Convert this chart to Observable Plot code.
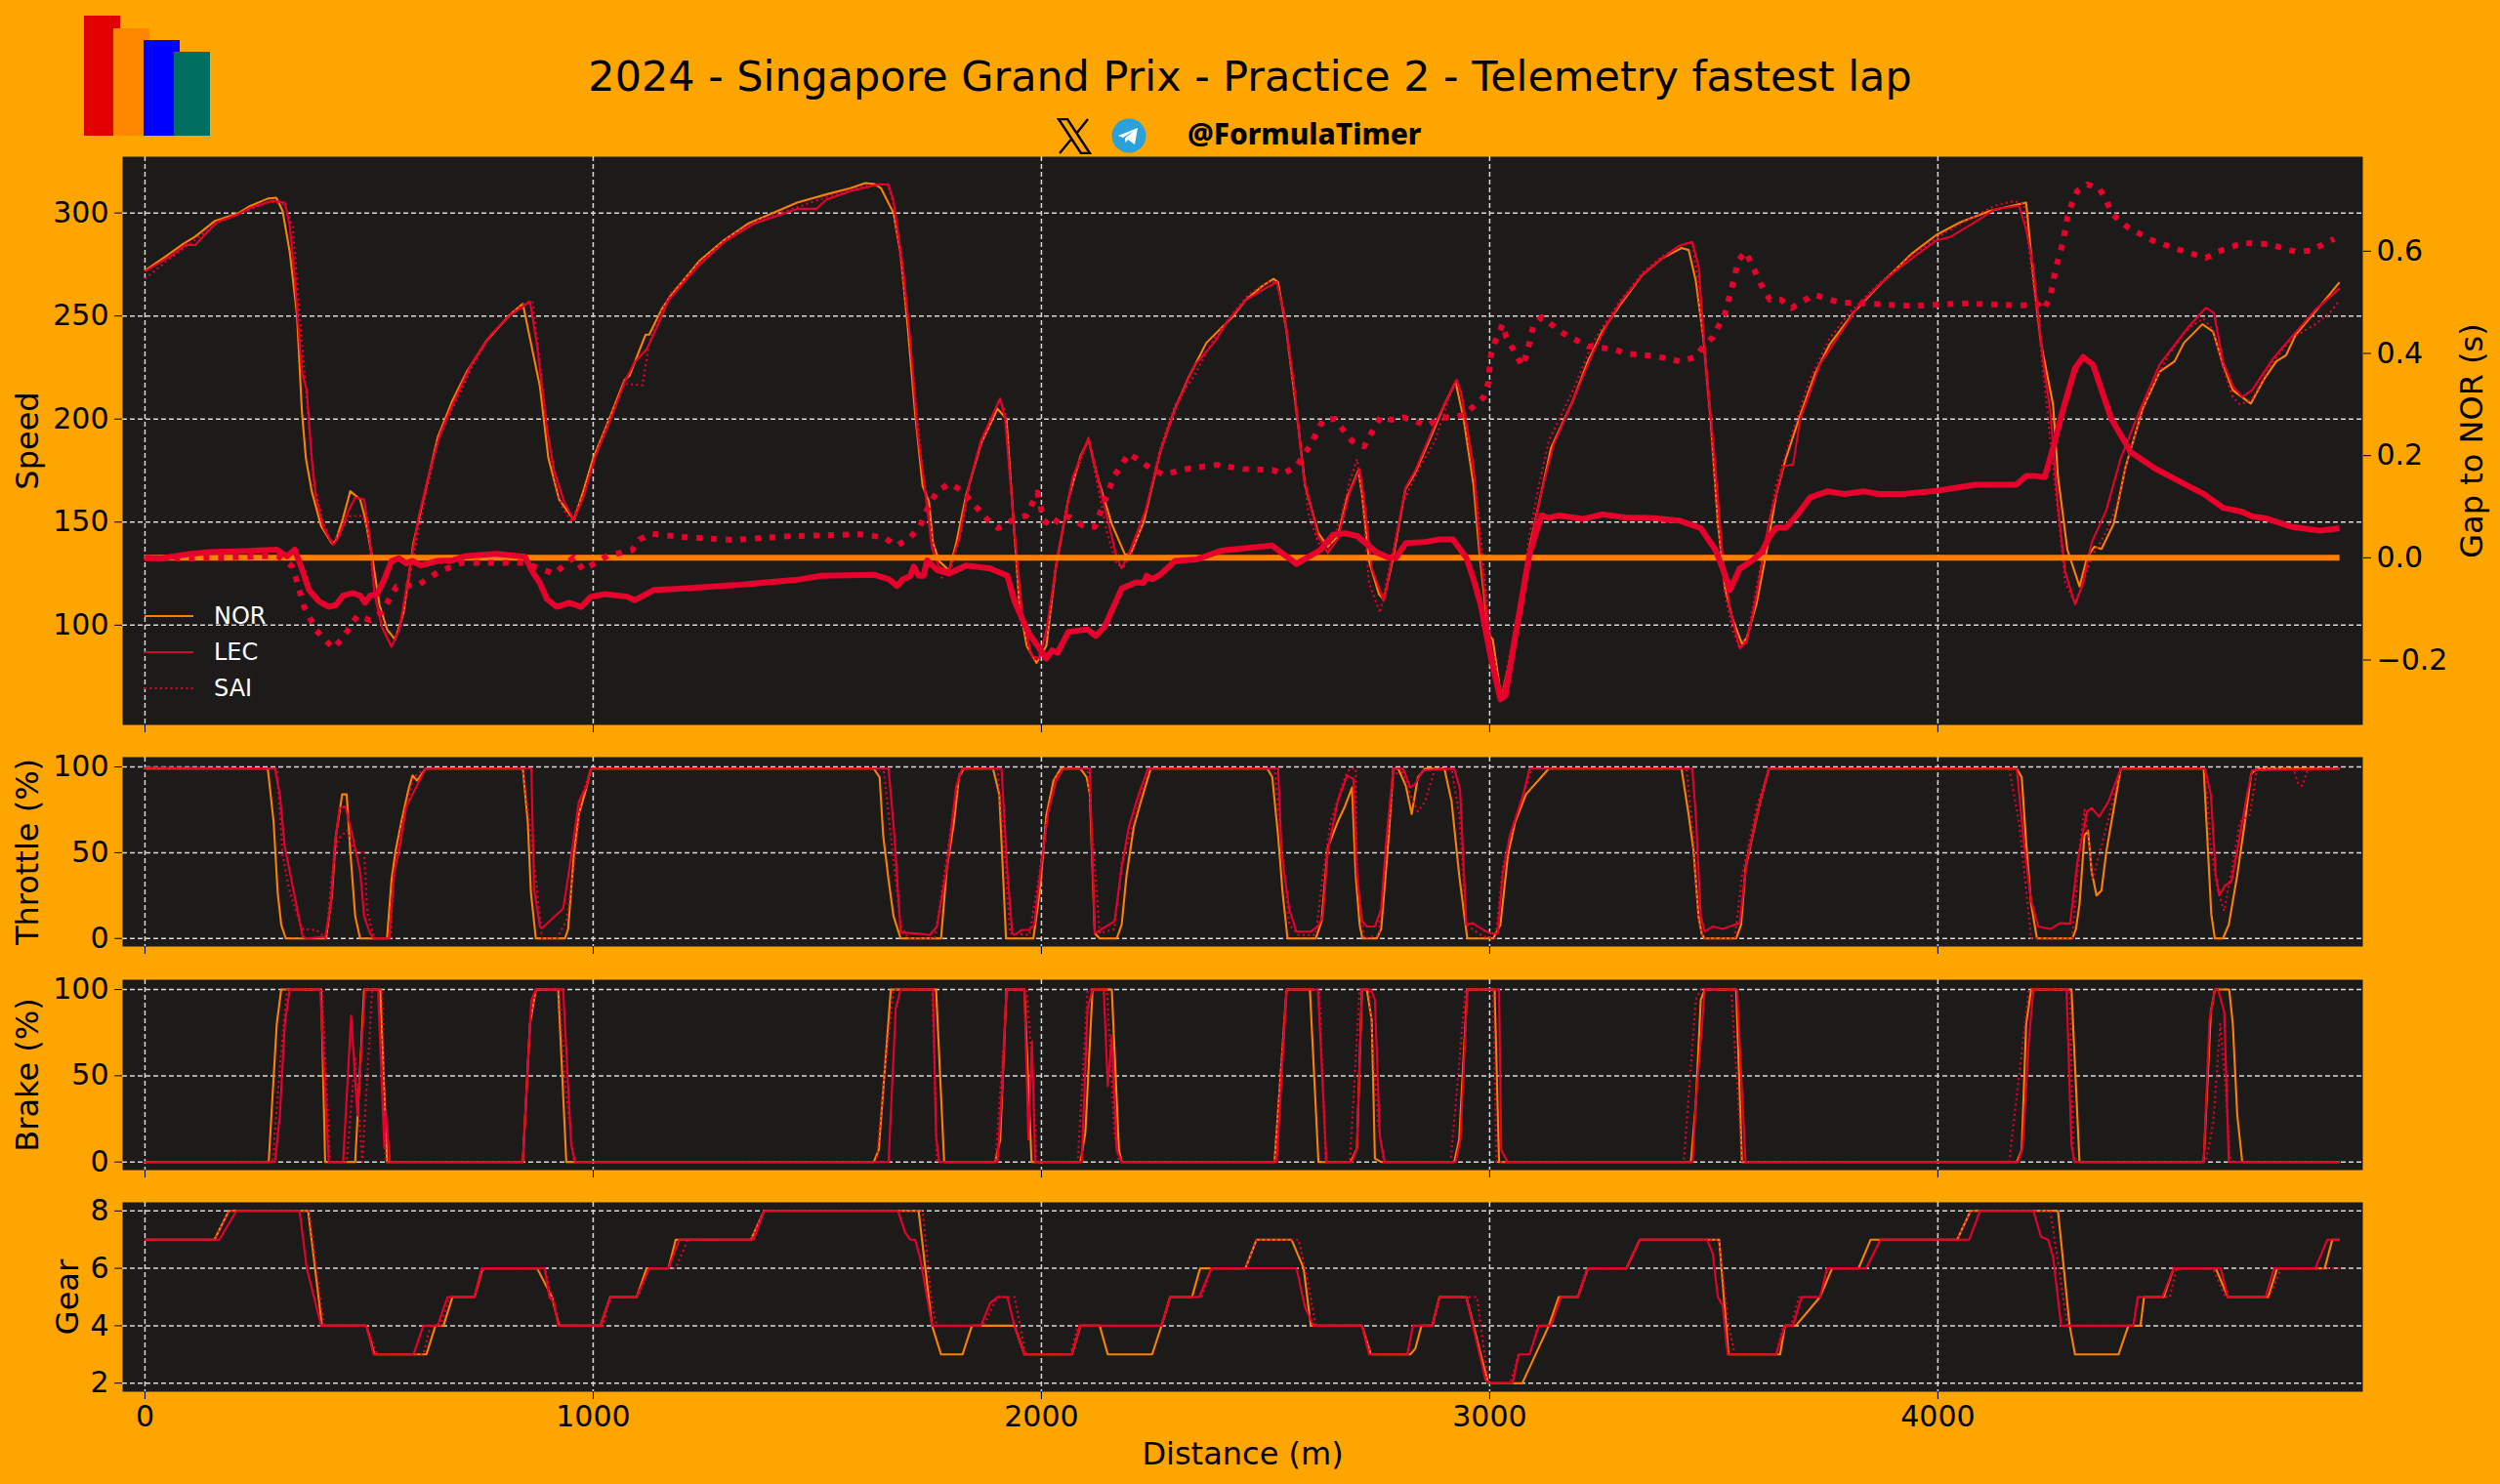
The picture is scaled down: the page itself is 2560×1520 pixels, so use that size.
<!DOCTYPE html>
<html>
<head>
<meta charset="utf-8">
<script src="https://cdn.jsdelivr.net/npm/d3@7"></script>
<script src="https://cdn.jsdelivr.net/npm/@observablehq/plot@0.6"></script>
<style>
html,body{margin:0;padding:0;background:#FFA500;}
#page{position:relative;width:2560px;height:1520px;overflow:hidden;background:#FFA500;font-family:"DejaVu Sans",sans-serif;color:#000;}
#page>*{position:absolute;}
.logo{display:block;}
#title{left:0;width:2560px;top:50px;text-align:center;font-size:42.9px;line-height:56px;}
#handle{left:1216px;top:116px;font-family:"Noto Sans",sans-serif;font-weight:800;font-size:29.8px;line-height:42px;white-space:nowrap;}
.lg{color:#fff;font-size:24px;line-height:30px;left:219px;}
.lgl{left:148px;width:50px;height:6px;}
</style>
</head>
<body>
<div id="page">
  <div class="logo" style="left:86px;top:16px;width:37px;height:123px;background:#E10000"></div>
  <div class="logo" style="left:116px;top:29px;width:37px;height:110px;background:#FF8700"></div>
  <div class="logo" style="left:147px;top:41px;width:37px;height:98px;background:#0000FF"></div>
  <div class="logo" style="left:178px;top:53px;width:37px;height:86px;background:#006F62"></div>
  <div id="title">2024 - Singapore Grand Prix - Practice 2 - Telemetry fastest lap</div>
  <svg style="left:1082px;top:121px" width="36" height="37" viewBox="0 0 36 37">
    <path d="M2 1 L11 1 L34 36 L25 36 Z" fill="none" stroke="#000" stroke-width="2.4"/>
    <path d="M32 1 L20.5 15.5 M15 21.5 L3 36" fill="none" stroke="#000" stroke-width="2.4"/>
  </svg>
  <svg style="left:1138px;top:121px" width="36" height="36" viewBox="0 0 36 36">
    <circle cx="18" cy="18" r="17.5" fill="#2AA1DA"/>
    <path d="M7 18 L27 10 L24 27 L17 22 L14.5 25 L14 20.5 L23 13 L12 20 Z" fill="#fff"/>
  </svg>
  <div id="handle">@FormulaTimer</div>
</div>
<script>
// [distance (m), value] samples
const norSpeed = [[0,272],[47,279],[85,285],[112,288.5],[155,296],[209,300],[231,303],[274,307],[293,307.4],[307,301],[323,281],[339,251],[350,204],[359,181],[372,165],[393,148],[417,139.6],[426,141],[442,152],[458,165],[480,161],[491,152],[507,133],[523,110],[540,98],[558,93],[577,106],[599,140],[621,161],[653,191],[686,209],[718,223],[762,238],[816,251],[843,256],[859,239],[881,216],[900,181],[924,161],[957,151],[978,165],[1000,181],[1032,198],[1070,219],[1081,221],[1097,230],[1117,241],[1125,241],[1152,253],[1173,260],[1238,277],[1293,287],[1347,295],[1412,301],[1455,305],[1520,309],[1574,312],[1607,314.5],[1628,314],[1642,312],[1670,300],[1686,280],[1702,244],[1718,203],[1735,167.5],[1738,166],[1749,160],[1758,140],[1772,131],[1794,126.5],[1810,140],[1832,163],[1865,188],[1902,205],[1922,200],[1935,159],[1951,110],[1967,90],[1989,81.7],[2011,90],[2032,128],[2060,161],[2087,182],[2105,190],[2125,172],[2157,149],[2187,134],[2200,135],[2228,150],[2265,184],[2298,205],[2330,221],[2368,237],[2428,250],[2455,257.6],[2493,264.6],[2518,268],[2528,266.4],[2547,242.5],[2574,195],[2588,168],[2617,145],[2639,138],[2661,143],[2682,162],[2707,175],[2715,164],[2731,131],[2753,115],[2764,112.5],[2785,133],[2812,166],[2834,174],[2872,193],[2899,207],[2924,218],[2942,200],[2964,168],[2978,133],[2997,96],[3007,93],[3026,64.5],[3046,84],[3062,101],[3089,138],[3110,159],[3137,186],[3186,209],[3219,228],[3251,242.5],[3293,256],[3341,270],[3385,278],[3428,283],[3444,282],[3460,267],[3477,239],[3493,200],[3509,150],[3525,118],[3542,103],[3563,91],[3574,94],[3596,111],[3618,136],[3639,163],[3661,181],[3693,202],[3726,222],[3758,236],[3813,252],[3872,265.5],[3943,280.5],[3997,289.4],[4051,295.6],[4116,301],[4197,305],[4213,269],[4230,237],[4257,207],[4268,172],[4289,136.5],[4316,118.8],[4333,133],[4349,138],[4365,137],[4392,149],[4419,177],[4457,205],[4495,223],[4528,228],[4549,237],[4590,246],[4614,242.5],[4636,226.6],[4658,214],[4698,207.5],[4728,219.5],[4755,228],[4777,231],[4798,240.8],[4853,255],[4896,266.4]];
const lecSpeed = [[0,271.7],[57,279],[90,284.6],[112,284.4],[160,295.6],[209,299.5],[236,302.6],[285,306],[312,305],[323,294],[334,269],[350,223],[361,214],[372,181],[382,161],[399,147],[420,139],[431,142],[453,155],[469,162],[489,161],[502,142],[512,115],[529,99],[550,89.5],[567,97.5],[588,124],[610,152],[632,172],[659,193],[686,207],[729,227],[772,241],[816,250.5],[859,257],[875,235.5],[897,195],[913,175],[935,160],[957,151],[978,162],[1005,182],[1043,202],[1070,218],[1092,227.5],[1119,233.7],[1141,244],[1168,257.6],[1233,274],[1293,286],[1358,294.7],[1455,302],[1498,302],[1520,306.5],[1574,310.6],[1639,314],[1659,313.6],[1670,306],[1691,274],[1707,239],[1724,193],[1740,166],[1756,137],[1772,128],[1794,126.7],[1816,141.7],[1838,168],[1865,189.5],[1908,210],[1919,200],[1938,150],[1957,106],[1978,85],[1995,84],[2011,97.5],[2038,136.5],[2070,172],[2105,191],[2125,172],[2146,153],[2168,133],[2179,127.6],[2195,134.7],[2233,156],[2265,184],[2298,204.5],[2341,226],[2385,237],[2417,248],[2455,257.6],[2504,264],[2525,266.4],[2542,251],[2563,218],[2585,172],[2617,143.5],[2639,135],[2661,141.7],[2688,164.7],[2710,175.7],[2720,161],[2737,127.6],[2764,111.7],[2785,135],[2812,166.5],[2834,175],[2883,200],[2926,219],[2937,212.5],[2964,177],[2980,133],[3002,88.7],[3026,64.5],[3051,85.6],[3073,108],[3094,142],[3116,165],[3143,187.7],[3186,209],[3230,232],[3262,246],[3292,256.7],[3341,270],[3385,278],[3422,284],[3452,286],[3466,274.4],[3482,228],[3500,186],[3520,133],[3536,108],[3558,88.7],[3574,92],[3596,115],[3623,150],[3655,177],[3677,178],[3693,200],[3737,226.6],[3780,240.8],[3823,255],[3867,264.6],[3910,272.6],[3953,279.7],[3997,286.7],[4029,288.5],[4083,295.6],[4127,301.8],[4181,303.5],[4197,292],[4213,274],[4235,228],[4251,203.6],[4268,157.6],[4284,126],[4306,110],[4322,119],[4343,140],[4376,156],[4408,181],[4452,205],[4495,226.6],[4560,245],[4598,254],[4616,251.4],[4636,228],[4658,216],[4679,210.7],[4701,214],[4750,230],[4793,240.8],[4842,253],[4896,263.4]];
const saiSpeed = [[0,268],[50,277],[100,285],[160,295],[210,299.5],[280,305.5],[312,304],[330,293],[345,251],[359,214],[377,168],[399,149],[415,140],[431,143.5],[458,153],[485,153],[496,147],[510,119],[529,99],[550,89.5],[572,101],[594,127.6],[621,157.6],[653,189.5],[686,205],[729,225],[772,241],[816,251],[850,256.7],[865,256.7],[881,228],[897,196.5],[913,172],[930,157.6],[951,150.6],[978,163],[1011,186],[1043,203.6],[1070,217],[1110,216.4],[1125,237],[1152,252],[1173,261],[1238,276],[1303,288.5],[1368,296.5],[1465,303.5],[1552,310],[1607,313],[1657,314],[1670,304.4],[1686,276],[1702,249.6],[1718,212.5],[1733,179],[1751,150.6],[1762,134.7],[1778,123],[1800,128.5],[1821,145],[1843,172],[1870,189.5],[1906,210],[1919,203.6],[1935,159],[1951,110],[1973,87],[1989,82.5],[2011,94],[2038,135],[2070,170],[2105,190],[2125,168],[2146,145],[2168,129.4],[2184,128.5],[2206,136.5],[2233,156],[2265,186],[2298,207],[2341,221],[2385,239],[2428,251.4],[2460,260],[2504,266.4],[2525,266.4],[2547,242.5],[2574,193],[2596,154],[2617,140],[2639,135.5],[2666,150.6],[2688,170],[2704,180.6],[2715,163],[2731,120.5],[2755,106],[2780,131.5],[2807,159.4],[2840,175],[2878,189.5],[2910,210.7],[2928,218.7],[2942,203.6],[2970,164.7],[2986,129.4],[3002,94],[3026,65],[3046,87],[3067,110],[3089,144],[3110,168],[3132,189.5],[3186,214],[3230,237],[3262,248],[3292,257.6],[3341,271],[3385,279],[3433,285],[3452,286],[3463,269],[3477,235.5],[3493,195],[3509,150.6],[3525,115],[3542,97.5],[3558,88.7],[3574,94],[3596,119],[3618,143.5],[3639,168],[3672,191],[3715,219.5],[3758,239],[3802,251.4],[3867,265.5],[3943,279.7],[4008,289.4],[4073,297.4],[4127,303.5],[4170,305.8],[4192,304.4],[4208,274],[4230,233.7],[4251,189.5],[4268,154],[4284,120.5],[4306,110.8],[4322,119],[4343,133],[4376,145.4],[4398,157.6],[4430,186],[4473,214],[4517,232],[4560,244.3],[4593,248.7],[4616,242.5],[4636,224.8],[4658,210.7],[4674,207],[4701,209.8],[4744,226.6],[4788,239],[4842,246],[4874,251.4],[4896,257.6]];

const norGap = [[0,0],[4896,0]];
const lecGap = [[0,0],[36,-0.001],[101,0.008],[144,0.011],[220,0.013],[294,0.016],[317,0.003],[334,0.016],[350,-0.021],[366,-0.063],[388,-0.085],[410,-0.096],[426,-0.092],[442,-0.074],[464,-0.069],[480,-0.074],[491,-0.088],[502,-0.074],[518,-0.071],[534,-0.042],[550,-0.006],[567,-0.001],[583,-0.011],[596,-0.006],[615,-0.015],[653,-0.006],[686,-0.005],[713,0.003],[783,0.008],[848,0.002],[865,-0.028],[881,-0.049],[897,-0.081],[919,-0.096],[946,-0.088],[973,-0.096],[995,-0.076],[1027,-0.071],[1076,-0.076],[1092,-0.083],[1135,-0.063],[1184,-0.061],[1325,-0.053],[1455,-0.043],[1509,-0.035],[1626,-0.033],[1660,-0.042],[1678,-0.055],[1691,-0.042],[1707,-0.036],[1715,-0.017],[1726,-0.035],[1737,-0.035],[1745,-0.005],[1767,-0.024],[1794,-0.031],[1832,-0.015],[1886,-0.021],[1913,-0.031],[1924,-0.035],[1940,-0.085],[1957,-0.12],[1973,-0.149],[2011,-0.197],[2024,-0.181],[2036,-0.186],[2060,-0.145],[2103,-0.14],[2121,-0.153],[2141,-0.135],[2179,-0.06],[2211,-0.048],[2228,-0.049],[2235,-0.035],[2247,-0.042],[2265,-0.033],[2298,-0.006],[2347,-0.003],[2401,0.014],[2515,0.024],[2569,-0.012],[2623,0.016],[2650,0.045],[2677,0.048],[2704,0.043],[2747,0.011],[2775,0],[2791,0],[2813,0.029],[2856,0.031],[2888,0.036],[2918,0.036],[2948,0],[2964,-0.042],[2980,-0.092],[3002,-0.192],[3024,-0.277],[3035,-0.27],[3062,-0.128],[3089,0.008],[3116,0.083],[3132,0.078],[3154,0.083],[3208,0.076],[3251,0.085],[3303,0.079],[3358,0.078],[3423,0.073],[3471,0.058],[3504,0.015],[3520,-0.021],[3536,-0.063],[3558,-0.021],[3585,-0.006],[3607,0.011],[3623,0.04],[3639,0.059],[3661,0.059],[3688,0.086],[3715,0.118],[3753,0.13],[3791,0.125],[3834,0.13],[3867,0.125],[3921,0.125],[3997,0.131],[4083,0.143],[4175,0.143],[4197,0.16],[4219,0.16],[4238,0.158],[4257,0.215],[4278,0.286],[4306,0.371],[4324,0.393],[4346,0.378],[4387,0.272],[4430,0.207],[4484,0.175],[4560,0.14],[4593,0.125],[4636,0.098],[4679,0.09],[4701,0.081],[4733,0.077],[4788,0.061],[4853,0.053],[4896,0.058]];
const saiGap = [[0,-0.001],[112,-0.001],[296,0.004],[329,-0.017],[339,-0.046],[355,-0.096],[382,-0.142],[420,-0.177],[442,-0.156],[474,-0.113],[502,-0.122],[529,-0.106],[561,-0.056],[610,-0.053],[653,-0.028],[707,-0.01],[848,-0.01],[881,-0.021],[913,-0.031],[957,0.001],[978,-0.024],[1032,0.004],[1087,0.015],[1103,0.036],[1130,0.047],[1195,0.041],[1314,0.035],[1433,0.042],[1596,0.046],[1648,0.04],[1678,0.024],[1707,0.04],[1729,0.061],[1740,0.086],[1767,0.13],[1794,0.145],[1821,0.133],[1843,0.111],[1878,0.076],[1903,0.058],[1940,0.076],[1967,0.083],[1991,0.128],[2005,0.073],[2024,0.061],[2043,0.083],[2065,0.079],[2092,0.063],[2119,0.061],[2141,0.111],[2163,0.161],[2195,0.204],[2244,0.175],[2271,0.163],[2330,0.175],[2390,0.182],[2450,0.174],[2515,0.172],[2540,0.165],[2569,0.179],[2601,0.222],[2628,0.27],[2655,0.272],[2674,0.249],[2693,0.229],[2720,0.218],[2742,0.254],[2758,0.277],[2780,0.27],[2807,0.275],[2861,0.259],[2888,0.273],[2942,0.279],[2986,0.314],[2997,0.343],[3002,0.393],[3011,0.421],[3029,0.457],[3037,0.432],[3053,0.407],[3073,0.375],[3083,0.4],[3097,0.453],[3116,0.471],[3165,0.439],[3219,0.414],[3278,0.408],[3303,0.4],[3368,0.395],[3428,0.384],[3460,0.394],[3477,0.414],[3498,0.432],[3525,0.478],[3542,0.535],[3555,0.582],[3571,0.599],[3585,0.574],[3607,0.532],[3625,0.505],[3650,0.505],[3674,0.489],[3723,0.515],[3780,0.5],[3878,0.496],[3937,0.493],[4062,0.498],[4181,0.494],[4224,0.496],[4235,0.485],[4251,0.51],[4262,0.564],[4278,0.614],[4289,0.667],[4300,0.696],[4311,0.718],[4333,0.731],[4360,0.723],[4376,0.699],[4387,0.674],[4425,0.646],[4479,0.621],[4538,0.603],[4598,0.587],[4625,0.599],[4679,0.616],[4739,0.614],[4798,0.599],[4830,0.601],[4884,0.624]];

const norThrottle = [[0,99],[274,99],[287,68],[296,27],[304,8],[314,0],[404,0],[417,25],[426,60],[433,72],[440,84],[450,84],[458,51],[469,13],[480,0],[540,0],[550,34],[559,51],[572,68],[588,87],[597,95],[607,92],[626,99],[843,99],[854,68],[861,27],[872,0],[937,0],[944,5.5],[957,49],[968,72.5],[984,87],[995,99],[1626,99],[1639,94],[1647,60],[1659,34],[1670,13],[1686,0],[1776,0],[1789,41],[1805,68],[1816,94],[1827,99],[1892,99],[1906,84],[1921,0],[1982,0],[1997,29],[2011,72],[2027,92],[2043,99],[2087,99],[2101,94],[2108,84],[2119,3],[2130,0],[2168,0],[2179,8],[2190,37],[2206,65],[2222,80],[2244,99],[2504,99],[2515,94],[2528,60],[2538,27],[2549,0],[2612,0],[2625,10],[2639,53],[2661,68],[2677,77],[2693,88],[2701,37],[2710,8],[2716,0],[2748,0],[2758,5.5],[2775,60],[2785,99],[2796,99],[2813,89],[2826,72.5],[2840,94],[2856,99],[2899,99],[2915,80],[2932,37],[2950,0],[3008,0],[3024,8],[3041,49],[3057,68],[3081,84],[3132,99],[3428,99],[3444,72],[3455,51],[3466,13],[3473,3],[3479,0],[3550,0],[3561,8],[3571,41],[3585,58],[3601,77],[3623,99],[4176,99],[4187,94],[4197,56],[4208,20],[4221,0],[4300,0],[4308,5.5],[4316,20],[4327,60],[4335,63],[4343,39],[4354,25],[4365,28],[4376,51],[4392,75],[4408,99],[4593,99],[4603,49],[4610,14],[4618,0],[4636,0],[4649,8],[4668,37],[4685,68],[4699,96],[4712,99],[4896,99]];
const lecThrottle = [[0,99.5],[290,99],[301,84],[312,53],[323,39],[352,1],[361,0],[402,1],[415,20],[423,53],[434,76],[447,77],[462,61],[480,39],[489,13],[502,3],[510,0],[545,0],[556,39],[567,51],[583,77],[597,84],[626,99],[862,99],[868,29],[881,7],[886,6],[933,17.5],[946,39],[968,80],[984,88],[995,99],[1659,99],[1672,60],[1686,3.5],[1735,2.6],[1751,2],[1767,7],[1789,41],[1810,89],[1823,99],[1911,99],[1924,39],[1935,3],[1940,2],[1957,5],[1973,5],[1984,8],[2000,44],[2016,75],[2033,92],[2049,99],[2108,99],[2112,60],[2119,3],[2163,10],[2179,41],[2195,65],[2217,84],[2238,99],[2528,99],[2536,49],[2553,17],[2569,4],[2601,4],[2617,7],[2628,13],[2639,51],[2661,80],[2682,95],[2696,93],[2704,37],[2715,10],[2726,7],[2744,7],[2758,17],[2769,56],[2785,99],[2807,99],[2823,88],[2834,90],[2851,98],[2921,99],[2934,87],[2948,8],[2961,9],[2986,5],[3002,3],[3018,3],[3029,37],[3045,60],[3073,82],[3089,99],[3452,99],[3460,72],[3471,13],[3480,4],[3498,7],[3520,5.5],[3558,9],[3574,46],[3601,77],[3623,99],[4176,99],[4192,56],[4208,22],[4224,7],[4251,5.5],[4273,9],[4295,8.6],[4311,44],[4333,74],[4343,76],[4360,71],[4381,80],[4408,99],[4596,99],[4609,84],[4620,37],[4628,25],[4641,31],[4655,33],[4674,60],[4690,84],[4701,98],[4896,99]];
const saiThrottle = [[0,99],[294,99],[307,49],[323,27],[350,5.5],[382,5],[404,0],[417,37],[431,58],[451,63],[469,49],[489,51],[496,15],[512,0],[547,0],[556,37],[572,65],[599,94],[626,99],[843,99],[859,65],[875,27],[886,0],[919,0],[940,10],[957,41],[973,82],[995,99],[1648,99],[1664,60],[1686,8],[1702,0],[1762,0],[1783,37],[1800,68],[1816,96],[1827,99],[1902,99],[1915,60],[1930,3],[1973,2],[1995,37],[2011,68],[2033,94],[2049,99],[2103,99],[2114,60],[2130,3],[2163,5.5],[2179,44],[2211,72.5],[2233,94],[2244,99],[2520,99],[2534,60],[2553,8],[2574,2],[2612,2],[2628,37],[2645,68],[2677,94],[2688,99],[2701,99],[2704,37],[2720,0],[2753,2],[2769,51],[2785,94],[2802,99],[2823,84],[2840,74],[2856,80],[2878,99],[2915,99],[2932,72],[2948,8],[2986,1],[3013,0],[3029,41],[3051,65],[3083,90],[3094,99],[3439,99],[3455,58],[3466,10],[3477,0],[3547,0],[3563,37],[3596,77],[3623,99],[4159,99],[4181,68],[4208,0],[4300,0],[4316,53],[4327,75],[4346,35],[4376,65],[4408,99],[4596,99],[4609,53],[4625,27],[4639,16],[4658,44],[4674,68],[4696,72],[4712,99],[4793,99],[4804,90],[4813,89],[4826,99],[4896,99]];

const norBrake = [[0,0],[276,0],[294,80],[304,100],[393,100],[402,0],[469,0],[489,100],[525,100],[540,0],[843,0],[859,80],[872,100],[922,100],[940,0],[1626,0],[1637,7],[1664,100],[1765,100],[1783,0],[1897,0],[1908,13],[1922,100],[1962,100],[1978,0],[2087,0],[2098,17],[2114,100],[2157,100],[2173,7],[2179,0],[2520,0],[2547,100],[2599,100],[2618,0],[2690,0],[2704,8],[2715,100],[2726,100],[2737,82],[2744,2],[2758,0],[2921,0],[2932,13],[2950,100],[3011,100],[3021,0],[3449,0],[3460,34],[3471,94],[3480,100],[3550,100],[3563,0],[4176,0],[4187,7],[4197,80],[4208,100],[4298,100],[4316,0],[4593,0],[4609,87],[4618,100],[4650,100],[4658,80],[4668,27],[4679,0],[4896,0]];
const lecBrake = [[0,0],[290,0],[301,27],[312,80],[323,100],[391,100],[410,0],[442,0],[460,85],[474,27],[491,100],[520,100],[534,8],[537,29.5],[547,0],[843,0],[862,94],[872,100],[933,100],[951,10],[960,0],[1659,0],[1675,89],[1686,100],[1758,100],[1765,15],[1772,0],[1902,0],[1913,46],[1922,100],[1962,100],[1971,13],[1979,70],[1986,0],[2090,0],[2103,89],[2114,100],[2139,100],[2148,44],[2157,73],[2168,7],[2179,0],[2525,0],[2547,100],[2617,100],[2636,0],[2693,0],[2704,8],[2715,100],[2735,100],[2744,94],[2755,15],[2766,0],[2924,0],[2935,13],[2950,100],[3021,100],[3026,7],[3040,0],[3453,0],[3460,34],[3480,100],[3552,100],[3571,0],[4179,0],[4189,8],[4203,70],[4213,100],[4287,100],[4298,10],[4305,0],[4593,0],[4606,82],[4618,100],[4625,100],[4639,87],[4649,0],[4896,0]];
const saiBrake = [[0,0],[285,0],[301,56],[317,100],[395,100],[413,0],[450,0],[469,61],[477,27],[485,0],[507,100],[529,100],[537,0],[843,0],[859,82],[872,100],[924,100],[937,46],[957,0],[1632,0],[1648,46],[1670,100],[1756,100],[1767,0],[1897,0],[1924,100],[1967,100],[1982,46],[1989,0],[2081,0],[2103,100],[2146,100],[2163,17],[2173,0],[2520,0],[2547,100],[2620,100],[2634,0],[2688,0],[2710,100],[2731,100],[2751,22],[2764,0],[2913,0],[2946,100],[3008,100],[3015,0],[3433,0],[3460,94],[3471,100],[3539,100],[3563,0],[4159,0],[4203,100],[4295,100],[4302,0],[4598,0],[4614,22],[4630,80],[4641,46],[4652,0],[4896,0]];

const norGear = [[0,7],[155,7],[187,8],[364,8],[395,4],[494,4],[512,3],[628,3],[648,4],[666,4],[686,5],[735,5],[753,6],[875,6],[908,5],[924,4],[1016,4],[1038,5],[1097,5],[1119,6],[1168,6],[1184,7],[1352,7],[1381,8],[1726,8],[1756,4],[1776,3],[1824,3],[1845,4],[1940,4],[1962,3],[2068,3],[2087,4],[2130,4],[2148,3],[2247,3],[2268,4],[2287,5],[2336,5],[2354,6],[2455,6],[2480,7],[2558,7],[2585,6],[2601,4],[2715,4],[2735,3],[2823,3],[2834,3.2],[2848,4],[2872,4],[2888,5],[2948,5],[2980,3],[2997,2],[3073,2],[3132,4],[3154,5],[3197,5],[3219,6],[3305,6],[3335,7],[3512,7],[3533,3],[3648,3],[3659,4],[3683,4],[3737,5],[3764,6],[3823,6],[3850,7],[4043,7],[4073,8],[4268,8],[4294,4],[4306,3],[4403,3],[4425,4],[4452,4],[4460,5],[4504,5],[4526,6],[4620,6],[4647,5],[4737,5],[4757,6],[4863,6],[4880,7],[4896,7]];
const lecGear = [[0,7],[166,7],[204,8],[345,8],[361,6],[393,4],[494,4],[510,3],[599,3],[621,4],[653,4],[675,5],[735,5],[751,6],[892,6],[902,5],[913,4.8],[922,4],[1016,4],[1038,5],[1097,5],[1125,6],[1168,6],[1192,7],[1358,7],[1381,8],[1680,8],[1696,7.25],[1707,7],[1718,7],[1729,6.4],[1756,4],[1865,4],[1886,4.8],[1902,5],[1924,5],[1940,4],[1962,3],[2068,3],[2087,4],[2268,4],[2287,5],[2352,5],[2379,6],[2569,6],[2588,4.65],[2607,4],[2715,4],[2731,3],[2816,3],[2829,4],[2872,4],[2888,5],[2948,5],[2991,2.1],[3000,2],[3051,2],[3065,3],[3089,3],[3110,4],[3137,4],[3159,5],[3197,5],[3219,6],[3305,6],[3335,7],[3485,7],[3498,6.5],[3509,5],[3520,4.7],[3531,3],[3639,3],[3659,4],[3677,4],[3696,5],[3737,5],[3753,6],[3840,6],[3872,7],[4070,7],[4094,8],[4213,8],[4230,7.1],[4246,7],[4257,6.4],[4275,4],[4436,4],[4446,5],[4501,5],[4526,6],[4631,6],[4647,5],[4731,5],[4750,6],[4842,6],[4869,7],[4896,7]];
const saiGear = [[0,7],[155,7],[187,8],[366,8],[399,4],[494,4],[518,3],[621,3],[637,4],[659,4],[680,5],[735,5],[756,6],[892,6],[924,4],[1022,4],[1038,5],[1100,5],[1125,6],[1184,6],[1211,7],[1352,7],[1381,8],[1735,8],[1756,4.65],[1767,4],[1870,4],[1902,5],[1940,5],[1965,3],[2065,3],[2081,4],[2268,4],[2287,5],[2357,5],[2379,6],[2455,6],[2480,7],[2574,7],[2596,5.4],[2612,4],[2715,4],[2737,3],[2818,3],[2829,4],[2872,4],[2888,5],[2972,5],[2997,2],[3046,2],[3064,3],[3089,3],[3108,4],[3137,4],[3159,5],[3195,5],[3217,6],[3305,6],[3335,7],[3512,7],[3533,4],[3547,3],[3639,3],[3655,4],[3672,4],[3690,5],[3737,5],[3753,6],[3840,6],[3872,7],[4043,7],[4073,8],[4251,8],[4289,4],[4436,4],[4446,5],[4517,5],[4533,6],[4614,6],[4641,5],[4739,5],[4766,6],[4896,6]];

const distanceTicks = [0,1000,2000,3000,4000];
const speedTicks = [100,150,200,250,300];
const gapTicks = [-0.2,0,0.2,0.4,0.6];
const pctTicks = [0,50,100];
const gearTicks = [2,4,6,8];
const drivers = ["NOR","LEC","SAI"];

const NOR="#FF8000", LEC="#E8002D";
const xd=p=>p[0], yd=p=>p[1];
const FONT='"DejaVu Sans", sans-serif';
const LABEL=32;
const MT=24, MB=90, ML=125, MR=141;
const xScale={domain:[-50,4948]};
const page=document.getElementById("page");
const baseStyle={background:"transparent",fontFamily:FONT,fontSize:"30px",color:"#000",overflow:"visible"};

function place(svg,top){
  svg.style.position="absolute"; svg.style.left="0"; svg.style.top=(top-MT)+"px";
  page.appendChild(svg);
}
function thin(s,color,dash){
  return Plot.line(s,{x:xd,y:yd,stroke:color,strokeWidth:2.1,strokeDasharray:dash?"2 3.3":undefined,strokeLinecap:"butt",strokeLinejoin:"round"});
}
function yLabel(text,anchor,dx){
  return Plot.text([text],{text:d=>d,frameAnchor:anchor,dx,rotate:-90,fontSize:LABEL,textAnchor:"middle",lineAnchor:"middle",fill:"#000"});
}
function panel(top,bottom,domain,ticks,label,labelDx,series,last){
  const svg=Plot.plot({
    width:2560,height:bottom-top+MT+MB,marginTop:MT,marginBottom:MB,marginLeft:ML,marginRight:MR,
    style:baseStyle,x:xScale,y:{domain},
    marks:[
      Plot.frame({fill:"#1C1B1A",stroke:null}),
      Plot.gridX(distanceTicks,{stroke:"#D8D8D8",strokeOpacity:1,strokeWidth:1.5,strokeDasharray:"5 3"}),
      Plot.gridY(ticks,{stroke:"#D8D8D8",strokeOpacity:1,strokeWidth:1.5,strokeDasharray:"5 3"}),
      Plot.axisX({ticks:distanceTicks,tickSize:8,tickPadding:6,stroke:"#000",strokeOpacity:1,fontSize:30,
        tickFormat:last?(d=>String(d)):(()=>""),label:null}),
      Plot.axisY({ticks,tickSize:8,tickPadding:6,stroke:"#000",strokeOpacity:1,fontSize:30,
        tickFormat:d=>String(d),label:null}),
      thin(series[0],NOR,false),thin(series[1],LEC,false),thin(series[2],LEC,true),
      yLabel(label,"left",labelDx),
      last?Plot.text(["Distance (m)"],{text:d=>d,frameAnchor:"bottom",dy:64,lineAnchor:"middle",fontSize:LABEL,fill:"#000"}):null
    ]
  });
  place(svg,top);
}

panel(160,742,[51.6,327.3],speedTicks,"Speed",-97,[norSpeed,lecSpeed,saiSpeed]);
panel(775,969,[-4.7,105.7],pctTicks,"Throttle (%)",-97,[norThrottle,lecThrottle,saiThrottle]);
panel(1003,1198,[-4.7,105.7],pctTicks,"Brake (%)",-97,[norBrake,lecBrake,saiBrake]);
panel(1231,1425,[1.7,8.3],gearTicks,"Gear",-56,[norGear,lecGear,saiGear],true);

// overlay: gap to NOR, right-hand axis of the top panel
place(Plot.plot({
  width:2560,height:742-160+MT+MB,marginTop:MT,marginBottom:MB,marginLeft:ML,marginRight:MR,
  style:baseStyle,x:{...xScale,axis:null},y:{domain:[-0.327,0.785],axis:null},
  marks:[
    Plot.axisY({anchor:"right",ticks:gapTicks,tickSize:8,tickPadding:6,stroke:"#000",strokeOpacity:1,fontSize:30,
      tickFormat:d3.format(".1f"),label:null}),
    yLabel("Gap to NOR (s)","right",112),
    Plot.line(norGap,{x:xd,y:yd,stroke:NOR,strokeWidth:6,strokeLinecap:"butt"}),
    Plot.line(lecGap,{x:xd,y:yd,stroke:LEC,strokeWidth:6,strokeLinecap:"butt",strokeLinejoin:"round"}),
    Plot.line(saiGap,{x:xd,y:yd,stroke:LEC,strokeWidth:6,strokeDasharray:"6 9",strokeLinecap:"butt"})
  ]
}),160);

// legend
drivers.forEach((name,i)=>{
  const y=631+i*37;
  const t=document.createElement("div"); t.className="lg"; t.textContent=name; t.style.top=(y-15)+"px"; page.appendChild(t);
  const s=document.createElementNS("http://www.w3.org/2000/svg","svg");
  s.setAttribute("class","lgl"); s.setAttribute("width","50"); s.setAttribute("height","6"); s.style.top=(y-3)+"px";
  const l=document.createElementNS("http://www.w3.org/2000/svg","line");
  l.setAttribute("x1","0");l.setAttribute("x2","50");l.setAttribute("y1","3");l.setAttribute("y2","3");
  l.setAttribute("stroke",i===0?NOR:"#C8102E");l.setAttribute("stroke-width","2");
  if(i===2)l.setAttribute("stroke-dasharray","2 3.3");
  s.appendChild(l);page.appendChild(s);
});
</script>
</body>
</html>
